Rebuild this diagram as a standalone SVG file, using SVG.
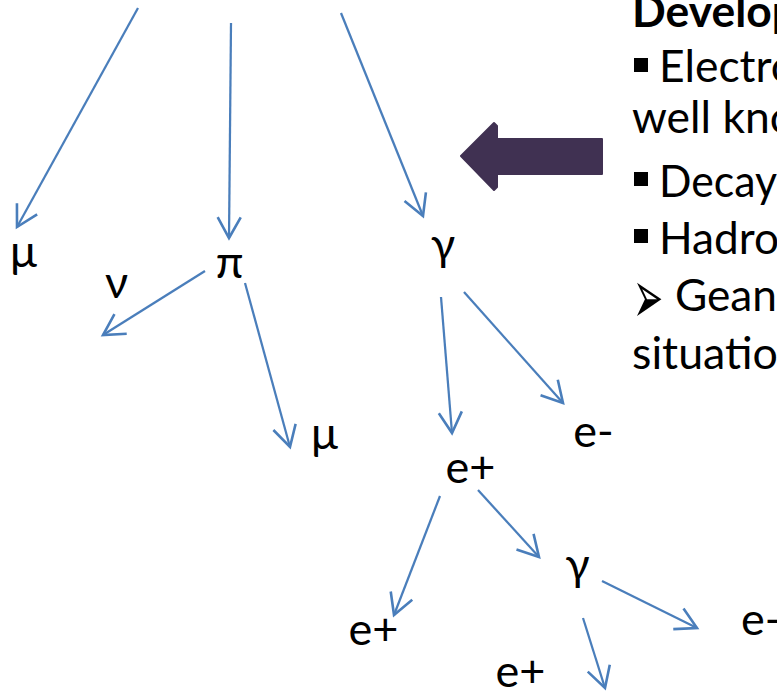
<svg xmlns="http://www.w3.org/2000/svg" width="777" height="691" viewBox="0 0 777 691">
  <style>
    .lbl { font-family: "Lato", "Open Sans", "Noto Sans", sans-serif; font-size: 45px; fill: #000; text-anchor: middle; }
    .lbl-s { text-anchor: start; }
    .txt { font-family: "Lato", "Open Sans", "Noto Sans", sans-serif; font-size: 44px; fill: #000; }
    .bold { font-weight: bold; }
    .sym { font-family: "DejaVu Sans", sans-serif; font-size: 36px; fill: #000; }
    .edge { stroke: #4a7ebb; stroke-width: 2.25; fill: none; marker-end: url(#ah); }
  </style>
  <defs>
    <marker id="ah" markerUnits="userSpaceOnUse" markerWidth="30" markerHeight="30" viewBox="-21 -13 24 26" refX="0" refY="0" orient="auto" overflow="visible">
      <path d="M-18,-10 L0,0 L-18,10" fill="none" stroke="#4a7ebb" stroke-width="2.25"/>
    </marker>
  </defs>
  <rect width="777" height="691" fill="#fff"/>

  <!-- particle cascade connectors -->
  <g id="connectors">
    <line class="edge" x1="138" y1="8" x2="17" y2="227"/>
    <line class="edge" x1="231" y1="23" x2="229" y2="238"/>
    <line class="edge" x1="341" y1="13" x2="423" y2="216"/>
    <line class="edge" x1="205" y1="271" x2="103" y2="335"/>
    <line class="edge" x1="245" y1="283" x2="290" y2="447"/>
    <line class="edge" x1="441" y1="297" x2="452" y2="433"/>
    <line class="edge" x1="464" y1="292" x2="563" y2="403"/>
    <line class="edge" x1="440" y1="496" x2="394" y2="615"/>
    <line class="edge" x1="478" y1="490" x2="539" y2="557"/>
    <line class="edge" x1="602" y1="581" x2="697" y2="628"/>
    <line class="edge" x1="583" y1="618" x2="605" y2="688"/>
  </g>

  <!-- particles -->
  <g id="mu1"><text class="lbl" x="23.5" y="267">μ</text></g>
  <g id="nu"><text class="lbl" x="116.5" y="298">ν</text></g>
  <g id="pi"><text class="lbl" x="229.5" y="278">π</text></g>
  <g id="gamma1"><text class="lbl" x="443" y="260">γ</text></g>
  <g id="mu2"><text class="lbl" x="324.5" y="449">μ</text></g>
  <g id="eminus1"><text class="lbl" x="593.5" y="447">e-</text></g>
  <g id="eplus1"><text class="lbl" x="470.5" y="483">e+</text></g>
  <g id="gamma2"><text class="lbl" x="577.5" y="580">γ</text></g>
  <g id="eplus2"><text class="lbl" x="373.5" y="645">e+</text></g>
  <g id="eminus2"><text class="lbl lbl-s" x="741" y="635">e-</text></g>
  <g id="eplus3"><text class="lbl" x="520.5" y="687">e+</text></g>

  <!-- block arrow pointing at the shower -->
  <g id="pointer">
    <path d="M461,156 L494,123 L497,126 L497,139 L602,139 L602,174 L497,174 L497,187 L494,190 Z" fill="#403152" stroke="#403152" stroke-width="2" stroke-linejoin="round"/>
  </g>

  <!-- side notes -->
  <g id="notes">
    <text class="txt bold" x="632" y="27" textLength="165" lengthAdjust="spacingAndGlyphs">Develop</text>
    <rect x="634" y="58" width="14" height="14" fill="#000"/>
    <text class="txt" x="659" y="82" textLength="137" lengthAdjust="spacingAndGlyphs">Electro</text>
    <text class="txt" x="632" y="133" textLength="163" lengthAdjust="spacingAndGlyphs">well kno</text>
    <rect x="634" y="172" width="14" height="14" fill="#000"/>
    <text class="txt" x="659" y="197" textLength="118" lengthAdjust="spacingAndGlyphs">Decay</text>
    <rect x="634" y="229" width="14" height="14" fill="#000"/>
    <text class="txt" x="659" y="254" textLength="120" lengthAdjust="spacingAndGlyphs">Hadro</text>
    <text class="sym" transform="translate(633,297) scale(1,2.1)" x="0" y="12.6">➢</text>
    <text class="txt" x="675" y="311" textLength="102" lengthAdjust="spacingAndGlyphs">Gean</text>
    <text class="txt" x="632" y="369" textLength="146" lengthAdjust="spacingAndGlyphs">situatio</text>
  </g>
</svg>
